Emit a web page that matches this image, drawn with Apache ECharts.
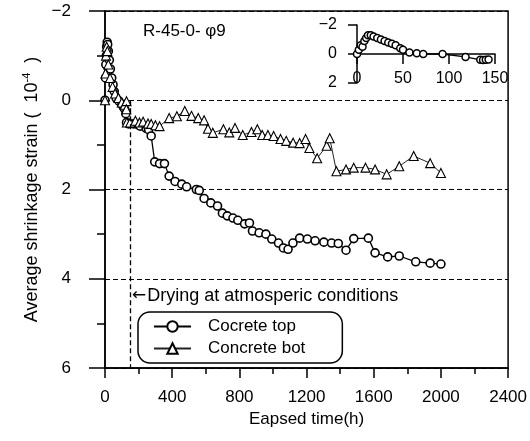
<!DOCTYPE html>
<html><head><meta charset="utf-8">
<script src="https://cdn.jsdelivr.net/npm/echarts@6/dist/echarts.min.js"></script>
<style>html,body{margin:0;padding:0;background:#fff}#c{width:530px;height:441px}</style>
</head><body><div id="c"></div>
<script>
// Elapsed time (h) and average shrinkage strain (1e-4)
const topSeries = [[0,0],[3,-0.5],[5,-0.8],[8,-1.0],[10,-1.2],[13,-1.3],[16,-1.25],[20,-1.1],[26,-0.9],[32,-0.7],[40,-0.5],[48,-0.35],[55,-0.2],[66,-0.05],[83,0.02],[100,0.1],[112,0.17],[124,0.3],[128,0.5],[141,0.53],[170,0.53],[198,0.55],[210,0.58],[245,0.63],[260,0.66],[275,0.8],[296,1.38],[325,1.42],[354,1.42],[382,1.7],[417,1.82],[457,1.88],[486,1.94],[544,2.0],[561,2.02],[590,2.2],[630,2.3],[670,2.37],[699,2.53],[728,2.59],[762,2.64],[791,2.69],[831,2.77],[860,2.75],[878,2.93],[918,2.97],[958,3.0],[993,3.11],[1033,3.2],[1062,3.31],[1090,3.34],[1119,3.2],[1159,3.09],[1205,3.11],[1251,3.15],[1303,3.18],[1349,3.2],[1389,3.21],[1435,3.36],[1481,3.1],[1568,3.09],[1608,3.42],[1683,3.51],[1752,3.49],[1850,3.62],[1936,3.65],[2000,3.67]];
const botSeries = [[0,0],[3,-0.6],[6,-1.0],[10,-1.2],[14,-1.1],[20,-0.8],[30,-0.5],[45,-0.3],[60,-0.15],[80,-0.05],[100,0.05],[118,0.1],[128,0.02],[127,0.2],[130,0.5],[150,0.5],[181,0.46],[205,0.5],[227,0.48],[256,0.52],[275,0.53],[300,0.56],[325,0.58],[382,0.4],[428,0.36],[475,0.24],[515,0.35],[555,0.4],[590,0.45],[613,0.64],[642,0.73],[705,0.65],[740,0.72],[774,0.62],[820,0.78],[872,0.71],[907,0.65],[936,0.78],[970,0.78],[1004,0.8],[1045,0.87],[1079,0.91],[1120,0.95],[1159,0.96],[1194,0.87],[1217,1.07],[1263,1.3],[1320,1.02],[1338,0.85],[1378,1.59],[1435,1.55],[1481,1.51],[1551,1.51],[1608,1.55],[1677,1.66],[1752,1.48],[1838,1.25],[1936,1.41],[2000,1.63]];
const insetSeries = [[0,0],[2,-0.3],[4,-0.6],[6,-0.5],[8,-0.9],[10,-1.1],[12,-1.3],[15,-1.3],[18,-1.2],[22,-1.1],[26,-1.0],[30,-0.9],[34,-0.8],[38,-0.7],[42,-0.6],[47,-0.4],[50,-0.3],[57,-0.1],[65,-0.05],[72,0],[93,0],[118,0.2],[134,0.4],[137,0.42],[140,0.4],[143,0.38]];
const seriesNames = ['Cocrete top','Concrete bot'];
const dryingStart = 150;

const FONT = 'Liberation Sans, Arial, sans-serif';
const neg = v => (v < 0 ? '\u2212' + (-v) : String(v));
const plain = v => String(v);
const chart = echarts.init(document.getElementById('c'), null, {renderer:'canvas'});
chart.setOption({
  animation:false,
  textStyle:{fontFamily:FONT,color:'#000'},
  grid:[
    {left:105,top:11,width:418,height:357,show:true,borderColor:'#000',borderWidth:1.5},
    {left:357,top:25,width:138,height:58}
  ],
  xAxis:[
    {gridIndex:0,type:'value',min:0,max:2400,interval:400,
     name:'Eapsed time(h)',nameLocation:'middle',nameGap:41,
     nameTextStyle:{fontSize:17,color:'#000',fontFamily:FONT},
     axisLine:{onZero:false,lineStyle:{color:'#000',width:1.5}},
     axisTick:{length:10,lineStyle:{color:'#000',width:1.5}},
     minorTick:{show:true,splitNumber:2,length:6,lineStyle:{color:'#000',width:1.5}},
     axisLabel:{fontSize:17,color:'#000',margin:21,fontFamily:FONT,formatter:plain},
     splitLine:{show:false}},
    {gridIndex:1,type:'value',min:0,max:150,interval:50,
     axisLine:{onZero:true,lineStyle:{color:'#000',width:1.5}},
     axisTick:{length:10,lineStyle:{color:'#000',width:1.5}},
     axisLabel:{fontSize:16,color:'#000',margin:-12,fontFamily:FONT,formatter:plain},
     splitLine:{show:false}}
  ],
  yAxis:[
    {gridIndex:0,type:'value',min:-2,max:6,interval:2,inverse:true,
     name:'Average shrinkage strain (  10{sup|-4}  )',nameLocation:'middle',nameGap:60,
     nameTextStyle:{fontSize:18,color:'#000',fontFamily:FONT,
       rich:{sup:{fontSize:11,verticalAlign:'top',padding:[0,0,9,0],fontFamily:FONT}}},
     axisLine:{lineStyle:{color:'#000',width:1.5}},
     axisTick:{length:16,lineStyle:{color:'#000',width:1.5}},
     minorTick:{show:true,splitNumber:2,length:8,lineStyle:{color:'#000',width:1.5}},
     axisLabel:{fontSize:17,color:'#000',margin:34,fontFamily:FONT,formatter:neg},
     splitLine:{show:true,lineStyle:{color:'#000',width:1.2,type:[5,3]}}},
    {gridIndex:1,type:'value',min:-2,max:2,interval:2,inverse:true,
     axisLine:{lineStyle:{color:'#000',width:1.5}},
     axisTick:{length:9,lineStyle:{color:'#000',width:1.5}},
     axisLabel:{fontSize:16,color:'#000',margin:20,fontFamily:FONT,formatter:neg},
     splitLine:{show:false}}
  ],
  legend:{
    data:seriesNames,orient:'vertical',left:138,top:312,
    itemWidth:37,itemHeight:13,itemGap:5,
    borderColor:'#000',borderWidth:1.5,borderRadius:12,padding:[6,37,6,15],
    textStyle:{fontSize:17,color:'#000',fontFamily:FONT,padding:[0,0,0,12]}
  },
  graphic:[
    {type:'text',left:143,top:23,style:{text:'R-45-0- \u03C69',font:'17px '+FONT,fill:'#000'}},
    {type:'text',left:132,top:287,style:{
      text:'{a|\u2190}Drying at atmosperic conditions',font:'18px '+FONT,fill:'#000',
      rich:{a:{fontFamily:'DejaVu Sans',fontSize:17,padding:[0,1,0,0]}}}}
  ],
  series:[
    {name:seriesNames[0],type:'line',xAxisIndex:0,yAxisIndex:0,data:topSeries,
     symbol:'circle',symbolSize:8,
     itemStyle:{color:'#fff',borderColor:'#000',borderWidth:1.6},
     lineStyle:{color:'#000',width:1.3},
     markLine:{silent:true,symbol:'none',label:{show:false},
       lineStyle:{color:'#000',width:1.3,type:[5,3]},
       data:[[{coord:[dryingStart,0]},{coord:[dryingStart,6]}]]}},
    {name:seriesNames[1],type:'line',xAxisIndex:0,yAxisIndex:0,data:botSeries,
     symbol:'triangle',symbolSize:9,
     itemStyle:{color:'#fff',borderColor:'#000',borderWidth:1.1},
     lineStyle:{color:'#222',width:1}},
    {name:'inset',type:'line',xAxisIndex:1,yAxisIndex:1,data:insetSeries,
     symbol:'circle',symbolSize:7,
     itemStyle:{color:'#fff',borderColor:'#000',borderWidth:1.5},
     lineStyle:{color:'#000',width:1.3}}
  ]
});
</script></body></html>
